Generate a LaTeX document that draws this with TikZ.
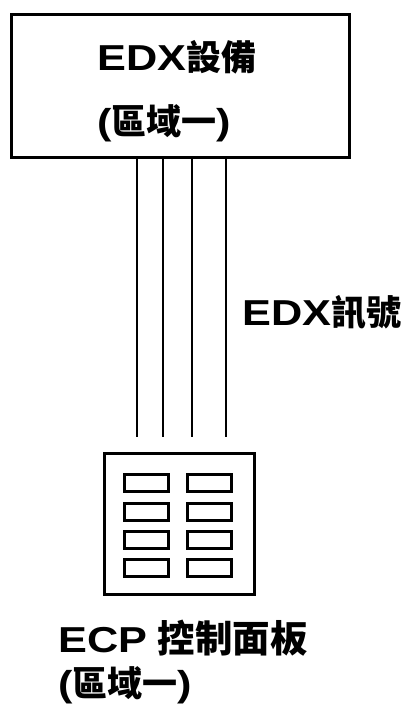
\documentclass[tikz,border=0pt]{standalone}
\usepackage{fontspec}
\newfontfamily\latfont[FakeStretch=1.2, Scale=1.03]{Liberation Sans}
\newfontfamily\cjkfont{Noto Sans CJK TC}
\newfontfamily\cjkbigfont[Scale=1.07]{Noto Sans CJK TC}
\newcommand{\latx}[1]{{\latfont\bfseries #1}}
\newcommand{\hanx}[1]{{\cjkfont\bfseries #1}}
\newcommand{\hanbig}[1]{{\cjkbigfont\bfseries #1}}

\tikzset{
    unitbox/.style={draw, line width=3pt, inner sep=0pt},
    keybox/.style={draw, line width=3pt, inner sep=0pt, minimum width=44pt, minimum height=17pt},
    wire/.style={line width=2pt},
    bigtext/.style={inner sep=0pt, align=left, font=\fontsize{35}{#1}\selectfont},
}

\begin{document}
\begin{tikzpicture}[x=1pt, y=-1pt]
    \useasboundingbox (0,0) rectangle (404,711);

    % EDX unit
    \node[unitbox, minimum width=338pt, minimum height=143pt] (edx) at (180.5,86) {};
    \node[bigtext=64] (edxtext) at (177,91) {\latx{EDX}\hanx{設備}\\\latx{(}\hanx{區域一}\latx{)}};

    % ECP panel
    \node[unitbox, minimum width=150pt, minimum height=141pt] (ecp) at (179.5,524) {};
    \foreach \ky [count=\r] in {483,511.5,539.5,568}
        \foreach \kx [count=\c] in {146.5,209.5}
            \node[keybox] (k\r\c) at (\kx,\ky) {};
    \node[bigtext=44] (ecptext) at (183,662) {\latx{ECP} \hanbig{控制面板}\\\latx{(}\hanx{區域一}\latx{)}};

    % Signal wires
    \coordinate (bus) at (180.5,437);
    \foreach \dx in {-43.5,-17.5,11.5,45.5}
        \draw[wire] ([xshift=\dx pt]edx.south) -- ([xshift=\dx pt]bus);
    \node[bigtext=40, anchor=west] (sig) at (242,313) {\latx{EDX}\hanx{訊號}};
\end{tikzpicture}
\end{document}
